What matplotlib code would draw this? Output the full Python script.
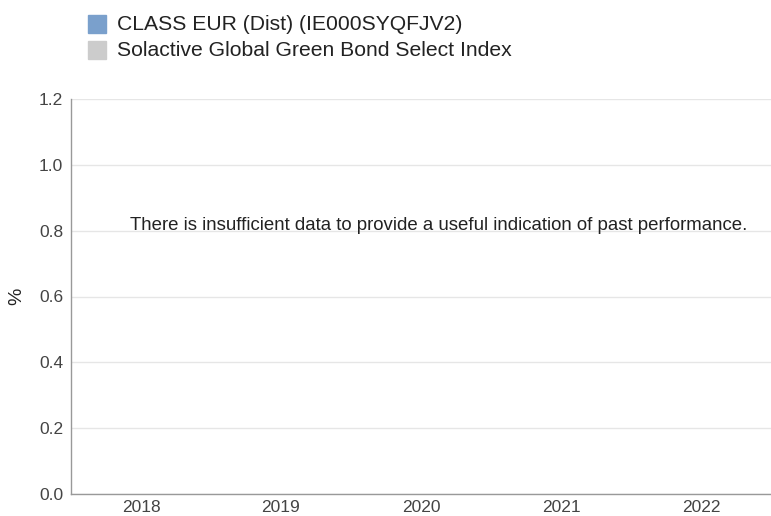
import matplotlib
matplotlib.use("Agg")
import matplotlib.pyplot as plt
from matplotlib.patches import Rectangle

plt.rcParams['font.family'] = ['Liberation Sans', 'DejaVu Sans']

categories = ["2018", "2019", "2020", "2021", "2022"]
series_names = ["CLASS EUR (Dist) (IE000SYQFJV2)", "Solactive Global Green Bond Select Index"]
series_colors = ["#7aa0cc", "#cccccc"]
fund_values = []   # no data
index_values = []  # no data
y_ticks = [0.0, 0.2, 0.4, 0.6, 0.8, 1.0, 1.2]
message = "There is insufficient data to provide a useful indication of past performance."

W, H = 771, 516
fig = plt.figure(figsize=(W / 100, H / 100), dpi=100)
ax = fig.add_axes([71 / W, (H - 494) / H, (771 - 71) / W, (494 - 99) / H])

ax.set_xlim(-0.5, len(categories) - 0.5)
ax.set_ylim(0, 1.2)
ax.set_xticks(range(len(categories)))
ax.set_xticklabels(categories)
ax.set_yticks(y_ticks)
ax.set_yticklabels([f"{v:.1f}" for v in y_ticks])
ax.tick_params(axis='both', length=0, labelsize=12.5, colors='#444444')
ax.tick_params(axis='x', pad=4.5)
ax.tick_params(axis='y', pad=5.5)
ax.grid(axis='y', color='#e6e6e6', linewidth=1)
ax.set_axisbelow(True)
for s in ['top', 'right']:
    ax.spines[s].set_visible(False)
for s in ['left', 'bottom']:
    ax.spines[s].set_color('#999999')
    ax.spines[s].set_linewidth(1)
ax.spines['bottom'].set_zorder(5)

ax.set_ylabel('%', fontsize=14, color='#222222')
ax.yaxis.set_label_coords((25 - 71) / 700, 0.5)

fig.text(438.5 / W, 1 - 225 / H, message, ha='center', va='center', fontsize=13.4, color='#222222')

# legend
for i, (name, col) in enumerate(zip(series_names, series_colors)):
    y_top = 15 + i * 26
    fig.patches.append(Rectangle((88 / W, 1 - (y_top + 18) / H), 18 / W, 18 / H,
                                 transform=fig.transFigure, color=col, figure=fig))
    fig.text(117 / W, 1 - (y_top + 10) / H, name, ha='left', va='center', fontsize=15.2, color='#222222')

fig.savefig("out.png", dpi=100)
